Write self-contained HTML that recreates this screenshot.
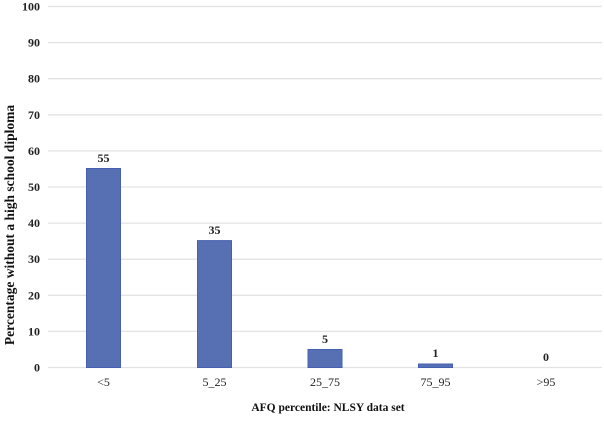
<!DOCTYPE html>
<html><head><meta charset="utf-8"><style>
html,body{margin:0;padding:0;background:#fff;}
</style></head><body>
<svg width="604" height="416" xmlns="http://www.w3.org/2000/svg" font-family="Liberation Serif, serif" font-weight="bold" font-size="12">
<g stroke="#e3e3e3" stroke-width="1.3">
<line x1="48" x2="602" y1="6.5" y2="6.5"/>
<line x1="48" x2="602" y1="42.6" y2="42.6"/>
<line x1="48" x2="602" y1="78.7" y2="78.7"/>
<line x1="48" x2="602" y1="114.8" y2="114.8"/>
<line x1="48" x2="602" y1="150.9" y2="150.9"/>
<line x1="48" x2="602" y1="187" y2="187"/>
<line x1="48" x2="602" y1="223.1" y2="223.1"/>
<line x1="48" x2="602" y1="259.2" y2="259.2"/>
<line x1="48" x2="602" y1="295.3" y2="295.3"/>
<line x1="48" x2="602" y1="331.4" y2="331.4"/>
<line x1="48" x2="602" y1="367.5" y2="367.5"/>
</g>
<g text-anchor="end" fill="#222">
<text x="40" y="10.5">100</text>
<text x="40" y="46.6">90</text>
<text x="40" y="82.7">80</text>
<text x="40" y="118.8">70</text>
<text x="40" y="154.9">60</text>
<text x="40" y="191">50</text>
<text x="40" y="227.1">40</text>
<text x="40" y="263.2">30</text>
<text x="40" y="299.3">20</text>
<text x="40" y="335.4">10</text>
<text x="40" y="371.5">0</text>
</g>
<g fill="#576fb3" stroke="#4560b0" stroke-width="1">
<rect x="86.5" y="168.5" width="34" height="199"/>
<rect x="197.5" y="240.6" width="34" height="126.9"/>
<rect x="308" y="349.5" width="34" height="18"/>
<rect x="418.5" y="364" width="34" height="3.5"/>
</g>
<g text-anchor="middle" fill="#222">
<text x="103.5" y="162">55</text>
<text x="214.5" y="234">35</text>
<text x="325" y="343">5</text>
<text x="435.5" y="357">1</text>
<text x="546" y="361">0</text>
</g>
<g text-anchor="middle" fill="#222" font-weight="normal">
<text x="103.5" y="386">&lt;5</text>
<text x="214.5" y="386">5_25</text>
<text x="325" y="386">25_75</text>
<text x="435.5" y="386">75_95</text>
<text x="546" y="386">&gt;95</text>
</g>
<text x="328" y="411" text-anchor="middle" fill="#111" font-size="11.5">AFQ percentile: NLSY data set</text>
<text transform="translate(14,225) rotate(-90)" text-anchor="middle" fill="#111" font-size="13.5">Percentage without a high school diploma</text>
</svg>
</body></html>
